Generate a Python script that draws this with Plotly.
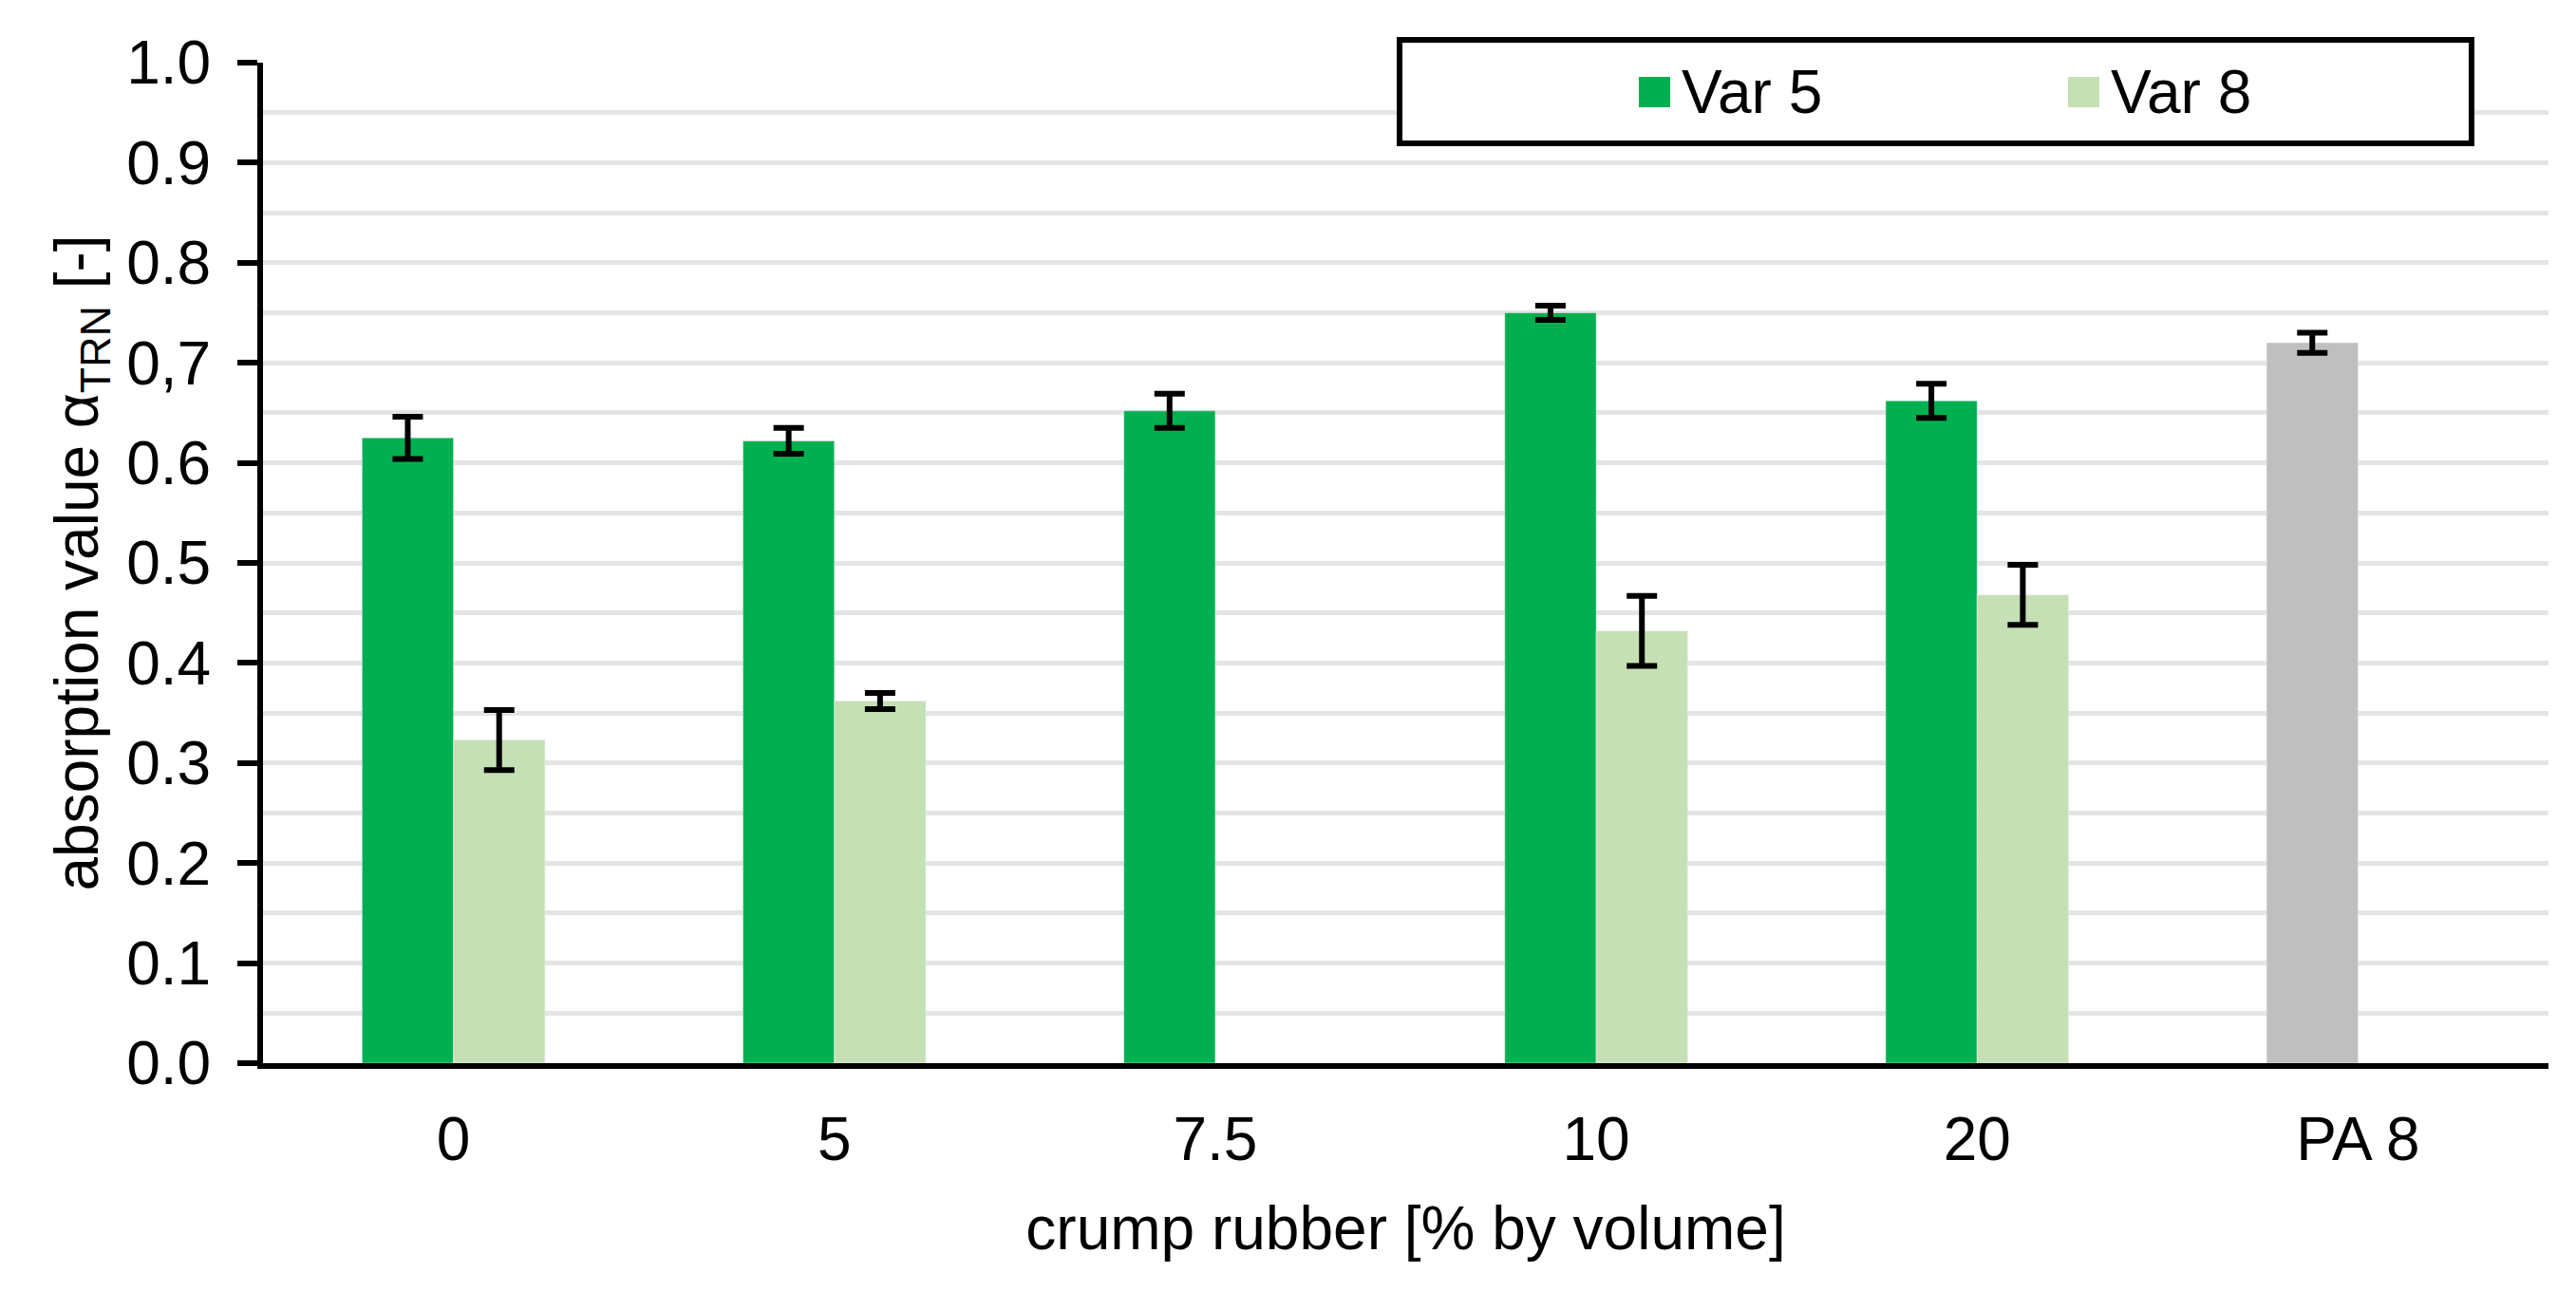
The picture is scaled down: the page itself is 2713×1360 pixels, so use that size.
import plotly.graph_objects as go

categories = ["0", "5", "7.5", "10", "20", "PA 8"]
var5_values = [0.625, 0.622, 0.652, 0.750, 0.662, 0.720]
var5_errors = [0.021, 0.013, 0.017, 0.007, 0.017, 0.010]
var8_values = [0.323, 0.362, None, 0.432, 0.468, None]
var8_errors = [0.030, 0.008, None, 0.035, 0.030, None]
var5_colors = ["#00B050", "#00B050", "#00B050", "#00B050", "#00B050", "#BFBFBF"]
legend_names = ["Var 5", "Var 8"]
legend_colors = ["#00B050", "#C5E0B4"]
y_tick_vals = [0.0, 0.1, 0.2, 0.3, 0.4, 0.5, 0.6, 0.7, 0.8, 0.9, 1.0]
y_tick_text = ["0.0", "0.1", "0.2", "0.3", "0.4", "0.5", "0.6", "0,7", "0.8", "0.9", "1.0"]

FONT = "Liberation Sans, Arial, sans-serif"
W, H = 2713, 1360
ML, MR, MT, MB = 277, 29, 66, 240

fig = go.Figure()
fig.add_trace(go.Bar(
    name=legend_names[0], x=categories, y=var5_values,
    marker=dict(color=var5_colors),
    error_y=dict(type="data", array=var5_errors, color="black", thickness=6, width=16),
))
fig.add_trace(go.Bar(
    name=legend_names[1], x=categories, y=var8_values,
    marker=dict(color=legend_colors[1]),
    error_y=dict(type="data", array=var8_errors, color="black", thickness=6, width=16),
))

pw = W - ML - MR
ph = H - MT - MB
def px_x(x):
    return (x - ML) / pw
def px_y(y):
    return (H - MB - y) / ph

# legend frame
fig.add_shape(type="rect", xref="paper", yref="paper",
              x0=px_x(1474), x1=px_x(2603), y0=px_y(151), y1=px_y(42),
              line=dict(color="black", width=6), fillcolor="white", layer="above")

# legend entries (symbol + text)
legend_sym_x = [1726, 2178]
for name, col, sx in zip(legend_names, legend_colors, legend_sym_x):
    fig.add_shape(type="rect", xref="paper", yref="paper",
                  x0=px_x(sx), x1=px_x(sx + 33), y0=px_y(113), y1=px_y(81),
                  line=dict(width=0), fillcolor=col, layer="above")
    fig.add_annotation(xref="paper", yref="paper", x=px_x(sx + 43), y=px_y(97),
                       xanchor="left", yanchor="middle", text=name, showarrow=False,
                       font=dict(family=FONT, size=64, color="black"))

fig.update_layout(
    width=W, height=H,
    margin=dict(l=ML, r=MR, t=MT, b=MB, autoexpand=False),
    paper_bgcolor="white", plot_bgcolor="white",
    font=dict(family=FONT, size=64, color="black"),
    barmode="group", bargap=0.52, bargroupgap=0,
    showlegend=False,
    xaxis=dict(type="category", showline=True, linecolor="black", linewidth=6,
               ticks="", showgrid=False, zeroline=False,
               ticklabelstandoff=19, tickfont=dict(size=64),
               title=dict(text="crump rubber [% by volume]", standoff=38,
                          font=dict(size=64))),
    yaxis=dict(range=[0, 1.0], tickvals=y_tick_vals, ticktext=y_tick_text,
               showline=True, linecolor="black", linewidth=6,
               ticks="outside", ticklen=21, tickwidth=6, tickcolor="black",
               showgrid=True, gridcolor="#E4E4E4", gridwidth=5, zeroline=False,
               minor=dict(dtick=0.05, showgrid=True, gridcolor="#E4E4E4", gridwidth=5, ticks=""),
               ticklabelstandoff=15, tickfont=dict(size=64),
               title=dict(text="absorption value α<sub>TRN</sub> [-]", standoff=11,
                          font=dict(size=64))),
)

fig.write_html("out.html", config={"displayModeBar": False},
               post_script="document.body.style.margin='0';")
